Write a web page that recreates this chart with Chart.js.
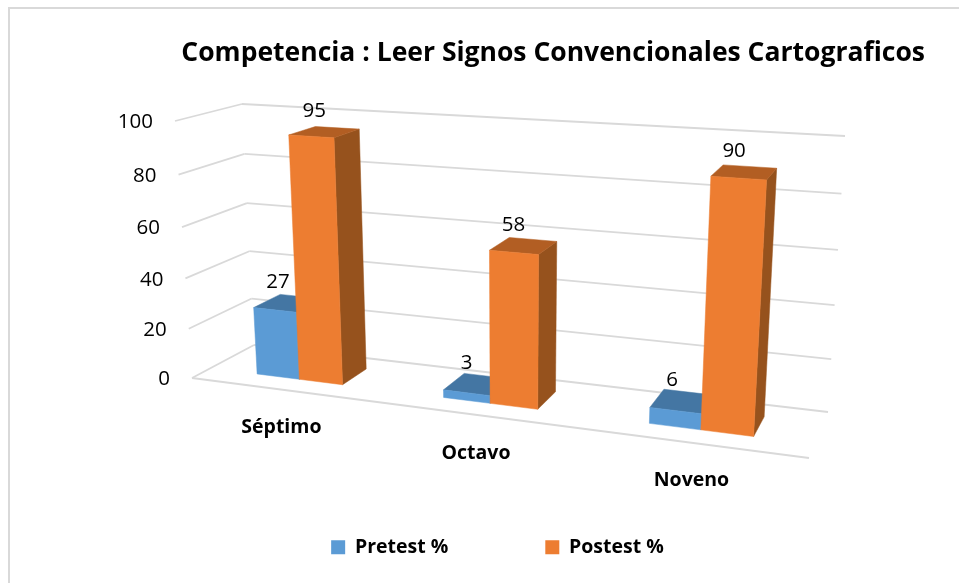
<!DOCTYPE html>
<html><head><meta charset="utf-8">
<style>html,body{margin:0;padding:0;background:#fff}#w{width:959px;height:583px}</style>
<script src="https://cdn.jsdelivr.net/npm/chart.js@4"></script>
</head><body><div id="w"><canvas id="c" width="959" height="583"></canvas></div>
<script>
const categories = ["Séptimo", "Octavo", "Noveno"];
const pretest = [27, 3, 6];
const postest = [95, 58, 90];
const seriesNames = ["Pretest %", "Postest %"];
const titleText = "Competencia : Leer Signos Convencionales Cartograficos";
const yTickStep = 20;
const yMax = 100;

// 3D view: corners of the plot box on screen [x0y0, x1y0, x1y1, x0y1]
const FRONT = [[192,378],[809,458],[828,161],[175,121]];
const BACK  = [[254,345],[828,412],[845,136],[242,104]];
const BAR_Z = [0.30, 0.74];
const shades = [
  {front:"#5B9BD5", top:"#4476A3", side:"#3F6F9B"},
  {front:"#ED7D31", top:"#B25E23", side:"#96521D"}
];
const GRID = "#D9D9D9";
const TICK_FONT = '20.5px "Open Sans"';
const BOLD = 'bold 19.5px "Open Sans"';

function project(u, v, z){
  const q = FRONT.map((p,i)=>[p[0]+(BACK[i][0]-p[0])*z, p[1]+(BACK[i][1]-p[1])*z]);
  const [x0,y0]=q[0],[x1,y1]=q[1],[x2,y2]=q[2],[x3,y3]=q[3];
  const dx1=x1-x2,dx2=x3-x2,dx3=x0-x1+x2-x3,dy1=y1-y2,dy2=y3-y2,dy3=y0-y1+y2-y3;
  const det=dx1*dy2-dx2*dy1;
  const g=(dx3*dy2-dx2*dy3)/det,h=(dx1*dy3-dx3*dy1)/det;
  const a=x1-x0+g*x1,b=x3-x0+h*x3,d=y1-y0+g*y1,e=y3-y0+h*y3;
  const w=g*u+h*v+1;
  return [(a*u+b*v+x0)/w,(d*u+e*v+y0)/w];
}
function poly(ctx, pts, fill){
  ctx.beginPath();
  pts.forEach((p,i)=> i?ctx.lineTo(p[0],p[1]):ctx.moveTo(p[0],p[1]));
  ctx.closePath();
  ctx.fillStyle=fill; ctx.fill();
  ctx.strokeStyle=fill; ctx.lineWidth=0.5; ctx.stroke();
}
function line(ctx,a,b){ctx.beginPath();ctx.moveTo(a[0],a[1]);ctx.lineTo(b[0],b[1]);ctx.stroke();}

const view3d = {
  id:"view3d",
  beforeDraw(chart){
    const ctx=chart.ctx;
    ctx.save();
    ctx.fillStyle="#fff"; ctx.fillRect(0,0,chart.width,chart.height);
    ctx.strokeStyle=GRID; ctx.lineWidth=2;
    ctx.beginPath(); ctx.moveTo(9,chart.height); ctx.lineTo(9,8); ctx.lineTo(chart.width,8); ctx.stroke();
    ctx.restore();
  },
  beforeDatasetDraw(){ return false; },
  afterDatasetsDraw(chart){
    const ctx=chart.ctx, ca=chart.chartArea, ys=chart.scales.y, xs=chart.scales.x;
    const U=px=>(px-ca.left)/ca.width, V=py=>(ca.bottom-py)/ca.height;
    ctx.save();
    // walls
    ctx.strokeStyle=GRID; ctx.lineWidth=1.8;
    ys.ticks.forEach(t=>{
      const v=V(ys.getPixelForValue(t.value));
      line(ctx,project(0,v,1),project(1,v,1));
      line(ctx,project(0,v,0),project(0,v,1));
    });
    line(ctx,project(0,0,0),project(1,0,0));
    // y tick labels
    ctx.fillStyle="#000"; ctx.font=TICK_FONT; ctx.textAlign="right"; ctx.textBaseline="middle";
    ys.ticks.forEach(t=>{
      const p=project(0,V(ys.getPixelForValue(t.value)),0);
      ctx.fillText(t.label,p[0]-22,p[1]+1.5);
    });
    // category labels
    ctx.font=BOLD; ctx.textAlign="center";
    categories.forEach((c,i)=>{
      const p=project(U(xs.getPixelForValue(i)),0,0);
      ctx.fillText(c,p[0]-1,p[1]+38);
    });
    // bars
    const [zf,zb]=BAR_Z;
    chart.data.datasets.forEach((ds,di)=>{
      const s=shades[di];
      chart.getDatasetMeta(di).data.forEach(el=>{
        const u0=U(el.x-el.width/2), u1=U(el.x+el.width/2), v0=V(el.base), v1=V(el.y);
        poly(ctx,[project(u1,v0,zf),project(u1,v0,zb),project(u1,v1,zb),project(u1,v1,zf)],s.side);
        poly(ctx,[project(u0,v1,zf),project(u1,v1,zf),project(u1,v1,zb),project(u0,v1,zb)],s.top);
        poly(ctx,[project(u0,v0,zf),project(u1,v0,zf),project(u1,v1,zf),project(u0,v1,zf)],s.front);
      });
    });
    // value labels
    ctx.fillStyle="#000"; ctx.font=TICK_FONT; ctx.textAlign="center"; ctx.textBaseline="middle";
    chart.data.datasets.forEach((ds,di)=>{
      chart.getDatasetMeta(di).data.forEach((el,i)=>{
        const p=project(U(el.x),V(el.y),(zf+zb)/2);
        ctx.fillText(String(ds.data[i]),p[0]-10,p[1]-21);
      });
    });
    ctx.restore();
  }
};

new Chart(document.getElementById("c"),{
  type:"bar",
  data:{labels:categories,datasets:[
    {label:seriesNames[0],data:pretest,backgroundColor:shades[0].front},
    {label:seriesNames[1],data:postest,backgroundColor:shades[1].front}
  ]},
  plugins:[view3d],
  options:{
    responsive:false,animation:false,
    layout:{padding:{left:70,right:34,top:0,bottom:16}},
    categoryPercentage:0.47,barPercentage:1,
    scales:{
      x:{display:false},
      y:{display:false,min:0,max:yMax,ticks:{stepSize:yTickStep}}
    },
    plugins:{
      tooltip:{enabled:false},
      title:{display:true,text:titleText,align:"end",color:"#000",
        font:{family:"Open Sans",size:26.5,weight:"bold"},padding:{top:38,bottom:20}},
      legend:{display:true,position:"bottom",
        labels:{boxWidth:14,boxHeight:14,padding:97,color:"#000",
          font:{family:"Open Sans",size:19.5,weight:"bold"}}}
    }
  }
});
</script></body></html>
